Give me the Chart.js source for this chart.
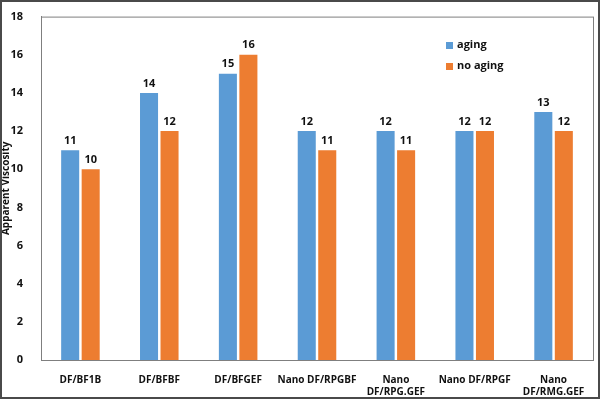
<!DOCTYPE html>
<html>
<head>
<meta charset="utf-8">
<script src="https://cdn.jsdelivr.net/npm/chart.js@4.4.0/dist/chart.umd.min.js"></script>
<style>
  html, body { margin: 0; padding: 0; background: #fff; }
  #wrap { width: 600px; height: 399px; }
</style>
</head>
<body>
<div id="wrap"><canvas id="chart" width="600" height="399"></canvas></div>
<script>
// chart data
const categories = [
  "DF/BF1B",
  "DF/BFBF",
  "DF/BFGEF",
  "Nano DF/RPGBF",
  ["Nano", "DF/RPG.GEF"],
  "Nano DF/RPGF",
  ["Nano", "DF/RMG.GEF"],
];
const agingValues = [11, 14, 15, 12, 12, 12, 13];
const noAgingValues = [10, 12, 16, 11, 11, 12, 12];
const yTicks = [0, 2, 4, 6, 8, 10, 12, 14, 16, 18];

const fontFamily = "'Open Sans', 'Liberation Sans', sans-serif";

// white background, outer frame, plot box, value labels and legend
const decorPlugin = {
  id: "decor",
  beforeDraw(chart) {
    const ctx = chart.ctx;
    ctx.save();
    ctx.fillStyle = "#fff";
    ctx.fillRect(0, 0, chart.width, chart.height);
    ctx.restore();
  },
  afterDraw(chart) {
    const ctx = chart.ctx;
    const area = chart.chartArea;
    ctx.save();
    // plot box
    ctx.strokeStyle = "#7f7f7f";
    ctx.lineWidth = 1;
    ctx.strokeRect(area.left + 0.5, area.top + 0.5, area.right - area.left, area.bottom - area.top);

    // value labels above bars
    ctx.fillStyle = "#111";
    ctx.font = "bold 11px " + fontFamily;
    ctx.textAlign = "center";
    ctx.textBaseline = "bottom";
    chart.data.datasets.forEach((ds, i) => {
      chart.getDatasetMeta(i).data.forEach((bar, j) => {
        ctx.fillText(ds.data[j], bar.x, bar.y - 4);
      });
    });

    // legend
    const lx = 446, ly = 45;
    chart.data.datasets.forEach((ds, i) => {
      const y = ly + i * 21;
      ctx.fillStyle = ds.backgroundColor;
      ctx.fillRect(lx, y - 3, 7, 7);
      ctx.fillStyle = "#111";
      ctx.textAlign = "left";
      ctx.textBaseline = "middle";
      ctx.fillText(ds.label, lx + 11, y);
    });

    // outer frame
    ctx.strokeStyle = "#4a4a4a";
    ctx.lineWidth = 2;
    ctx.strokeRect(1, 1, chart.width - 2, chart.height - 2);
    ctx.restore();
  },
};

new Chart(document.getElementById("chart"), {
  type: "bar",
  data: {
    labels: categories,
    datasets: [
      {
        label: "aging",
        data: agingValues,
        backgroundColor: "#5B9BD5",
        categoryPercentage: 0.52,
        barPercentage: 0.88,
      },
      {
        label: "no aging",
        data: noAgingValues,
        backgroundColor: "#ED7D31",
        categoryPercentage: 0.52,
        barPercentage: 0.88,
      },
    ],
  },
  options: {
    responsive: false,
    animation: false,
    layout: { padding: { top: 9, right: 7, bottom: 2, left: 0 } },
    plugins: {
      legend: { display: false },
      tooltip: { enabled: false },
    },
    scales: {
      x: {
        grid: { display: false },
        border: { display: true, color: "#7f7f7f" },
        ticks: {
          color: "#111",
          font: { family: fontFamily, size: 10, weight: "bold" },
          maxRotation: 0,
          autoSkip: false,
          padding: 6,
        },
        afterFit(scale) { scale.height = 37; },
      },
      y: {
        min: 0,
        max: 18,
        afterBuildTicks(scale) {
          scale.ticks = yTicks.map((v) => ({ value: v }));
        },
        grid: { display: false },
        border: { display: true, color: "#7f7f7f" },
        ticks: {
          color: "#111",
          font: { family: fontFamily, size: 11, weight: "bold" },
          padding: 10,
        },
        title: {
          display: true,
          text: "Apparent Viscosity",
          color: "#111",
          font: { family: fontFamily, size: 10, weight: "bold" },
          padding: { top: 0, bottom: 0 },
        },
        afterFit(scale) { scale.width = 41; },
      },
    },
  },
  plugins: [decorPlugin],
});
</script>
</body>
</html>
